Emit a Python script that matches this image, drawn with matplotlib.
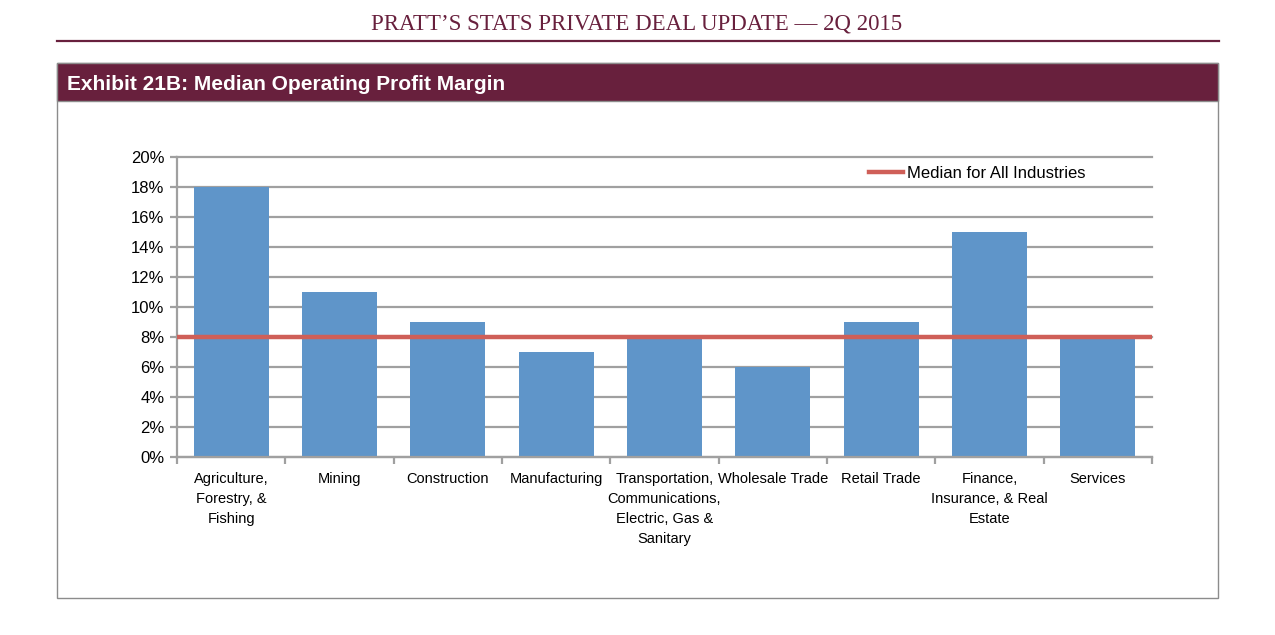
import matplotlib
matplotlib.use("Agg")
import matplotlib.pyplot as plt
from matplotlib.patches import Rectangle
from matplotlib.lines import Line2D
from matplotlib.ticker import FixedLocator, FuncFormatter

categories = ["Agriculture,\nForestry, &\nFishing", "Mining", "Construction", "Manufacturing",
              "Transportation,\nCommunications,\nElectric, Gas &\nSanitary", "Wholesale Trade",
              "Retail Trade", "Finance,\nInsurance, & Real\nEstate", "Services"]
values = [18, 11, 9, 7, 8, 6, 9, 15, 8]
median_all = 8
yticks = [0, 2, 4, 6, 8, 10, 12, 14, 16, 18, 20]

W, H = 1275, 635
fig = plt.figure(figsize=(W/100, H/100), dpi=100)
fig.patch.set_facecolor("white")

maroon = "#68203d"
sans = ["Liberation Sans", "DejaVu Sans"]

def fx(x): return x / W
def fy(y): return 1 - y / H

# Page header
fig.text(fx(637), fy(24), "PRATT\u2019S STATS PRIVATE DEAL UPDATE \u2014 2Q 2015",
         ha="center", va="center", fontsize=16.5, color=maroon, family=["Liberation Serif", "DejaVu Serif"])
fig.add_artist(Line2D([fx(57), fx(1219)], [fy(41), fy(41)], color=maroon, lw=1.6, zorder=-5))

# Box
fig.add_artist(Rectangle((fx(57), fy(598)), fx(1218) - fx(57), fy(63) - fy(598),
                         facecolor="white", edgecolor="#8c8c8c", lw=1.0, zorder=-10))
fig.add_artist(Rectangle((fx(57), fy(101)), fx(1218) - fx(57), fy(63) - fy(101),
                         facecolor=maroon, edgecolor="#8c8c8c", lw=1.0, zorder=-9))
fig.text(fx(67), fy(85), "Exhibit 21B: Median Operating Profit Margin", ha="left", va="center",
         fontsize=15, fontweight="bold", color="white", family=sans)

# Chart axes
ax = fig.add_axes([fx(177), fy(457), fx(1152) - fx(177), fy(157) - fy(457)])
ax.set_zorder(5)
ax.patch.set_alpha(0)
x = list(range(len(categories)))
ax.bar(x, values, width=0.69, color="#5f95c9", zorder=2)
ax.axhline(median_all, color="#cf5f58", lw=3.2, zorder=3, label="Median for All Industries")
ax.set_xlim(-0.5, len(categories) - 0.5)
ax.set_ylim(0, 20)
ax.set_yticks(yticks)
ax.yaxis.set_major_formatter(FuncFormatter(lambda v, p: f"{int(v)}%"))
ax.grid(axis="y", color="#a0a0a0", lw=1.6, zorder=0)
ax.set_axisbelow(True)
for gl in ax.get_ygridlines():
    gl.set_clip_on(False)
for s in ["top", "right"]:
    ax.spines[s].set_visible(False)
for s in ["left", "bottom"]:
    ax.spines[s].set_color("#a0a0a0")
    ax.spines[s].set_linewidth(1.6)
ax.tick_params(axis="y", length=5, width=1.6, color="#a0a0a0", labelsize=12, pad=4)
for lab in ax.get_yticklabels():
    lab.set_family(sans)
ax.set_xticks(x)
ax.set_xticklabels(categories, fontsize=10.5, family=sans, linespacing=1.55)
ax.tick_params(axis="x", length=0, pad=11)
ax.xaxis.set_minor_locator(FixedLocator([i - 0.5 for i in range(len(categories) + 1)]))
ax.tick_params(axis="x", which="minor", length=5, width=1.6, color="#a0a0a0")
for lab in ax.get_xticklabels():
    lab.set_verticalalignment("top")

leg = ax.legend(loc="upper right", frameon=False, fontsize=12,
                handlelength=2.0, handletextpad=0.25, borderaxespad=0)
leg.set_bbox_to_anchor((fx(1092), fy(159)), transform=fig.transFigure)
for t in leg.get_texts():
    t.set_family(sans)

fig.savefig("out.png", dpi=100, facecolor="white")
